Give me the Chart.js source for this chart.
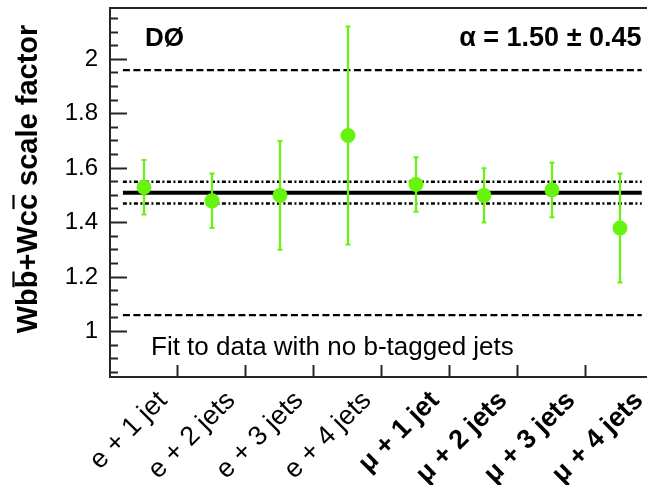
<!DOCTYPE html>
<html>
<head>
<meta charset="utf-8">
<script src="https://cdn.jsdelivr.net/npm/chart.js@4.4.1/dist/chart.umd.min.js"></script>
<style>
  html, body { margin: 0; padding: 0; background: #fff; overflow: hidden; }
  #wrap { width: 654px; height: 485px; }
</style>
</head>
<body>
<div id="wrap"><canvas id="sfChart" width="654" height="485"></canvas></div>
<script>
// channels and fitted W+heavy-flavour scale factors
const channels = ['e + 1 jet', 'e + 2 jets', 'e + 3 jets', 'e + 4 jets', 'μ + 1 jet', 'μ + 2 jets', 'μ + 3 jets', 'μ + 4 jets'];
const boldChannel = [false, false, false, false, true, true, true, true];
const scaleFactor = [1.53, 1.48, 1.50, 1.72, 1.54, 1.50, 1.52, 1.38];
const errUp = [0.10, 0.10, 0.20, 0.40, 0.10, 0.10, 0.10, 0.20];
const errDown = [0.10, 0.10, 0.20, 0.40, 0.10, 0.10, 0.10, 0.20];
// combined fit: central value, narrow band, wide band
const fitCentral = 1.51;
const fitBand = 0.04;
const fitSyst = 0.45;
const yTickLabels = ['1', '1.2', '1.4', '1.6', '1.8', '2'];

const FONT = '"Liberation Sans", Arial, Helvetica, sans-serif';
const GREEN = '#66f40e';
const FRAME = '#262626';

const points = scaleFactor.map((v, i) => ({ x: i, y: v }));
// error bars as one broken line: low, high, gap
const errorBars = [];
scaleFactor.forEach((v, i) => {
  errorBars.push({ x: i, y: v - errDown[i] });
  errorBars.push({ x: i, y: v + errUp[i] });
  errorBars.push({ x: i, y: null });
});

function hline(y, width, dash) {
  return {
    type: 'line',
    data: [{ x: -0.31, y: y }, { x: 7.32, y: y }],
    borderColor: '#000',
    borderWidth: width,
    borderDash: dash,
    pointRadius: 0,
    fill: false
  };
}

const textPlugin = {
  id: 'plotText',
  afterDraw(chart) {
    const { ctx, chartArea: a } = chart;
    ctx.save();
    ctx.fillStyle = '#000';
    ctx.textBaseline = 'alphabetic';
    ctx.font = 'bold 26px ' + FONT;
    ctx.textAlign = 'left';
    ctx.fillText('DØ', a.left + 35, a.top + 38);
    ctx.font = 'bold 27px ' + FONT;
    ctx.textAlign = 'right';
    ctx.fillText('α = 1.50 ± 0.45', a.right - 5, a.top + 38);
    ctx.font = '26px ' + FONT;
    ctx.textAlign = 'left';
    ctx.fillText('Fit to data with no b-tagged jets', a.left + 41, a.top + 347);

    // y axis title, with bars over the second b and c
    const title = 'Wbb+Wcc scale factor';
    ctx.translate(37, 179);
    ctx.rotate(-Math.PI / 2);
    ctx.font = 'bold 29px ' + FONT;
    ctx.textAlign = 'left';
    const x0 = -ctx.measureText(title).width / 2;
    ctx.fillText(title, x0, 0);
    ctx.strokeStyle = '#000';
    ctx.lineWidth = 2.2;
    [['Wb', 'b'], ['Wbb+Wc', 'c']].forEach(([pre, ch]) => {
      const s = x0 + ctx.measureText(pre).width + 1;
      const w = ctx.measureText(ch).width - 2;
      ctx.beginPath();
      ctx.moveTo(s, -23.5);
      ctx.lineTo(s + w, -23.5);
      ctx.stroke();
    });
    ctx.restore();
  }
};

new Chart(document.getElementById('sfChart'), {
  type: 'scatter',
  data: {
    datasets: [
      {
        data: points,
        backgroundColor: GREEN,
        borderColor: GREEN,
        pointRadius: 7.5,
        pointHoverRadius: 7.5,
        borderWidth: 0
      },
      {
        type: 'line',
        data: errorBars,
        borderColor: GREEN,
        borderWidth: 2.2,
        spanGaps: false,
        pointStyle: 'line',
        pointRadius: 2.5,
        pointBorderWidth: 2,
        pointBorderColor: GREEN,
        fill: false
      },
      hline(fitCentral, 4, []),
      hline(fitCentral + fitBand, 2.5, [4, 2.5, 2, 2.5]),
      hline(fitCentral - fitBand, 2.5, [4, 2.5, 2, 2.5]),
      hline(fitCentral + fitSyst, 2.2, [7, 3.5]),
      hline(fitCentral - fitSyst, 2.2, [7, 3.5])
    ]
  },
  options: {
    responsive: false,
    animation: false,
    layout: { padding: { left: 0, top: 5, right: 1, bottom: 0 } },
    plugins: { legend: { display: false }, tooltip: { enabled: false } },
    scales: {
      x: {
        type: 'linear',
        min: -0.5,
        max: 7.39,
        afterBuildTicks: s => { s.ticks = channels.map((c, i) => ({ value: i - 0.5 })); },
        afterFit: s => { s.height = 108; s.paddingLeft = 0; s.paddingRight = 0; },
        ticks: {
          autoSkip: false,
          minRotation: 45,
          maxRotation: 45,
          labelOffset: 53,
          padding: 20,
          color: '#000',
          callback: (v, i) => channels[i],
          font: ctx => ({ family: FONT, size: 27, weight: boldChannel[ctx.index] ? 'bold' : 'normal' })
        },
        grid: {
          drawOnChartArea: false,
          tickLength: -12,
          tickWidth: 2,
          tickColor: ctx => ctx.index === 0 ? 'rgba(0,0,0,0)' : FRAME
        },
        border: { display: true, width: 2, color: FRAME }
      },
      xTop: {
        type: 'linear',
        position: 'top',
        min: -0.5,
        max: 7.39,
        afterFit: s => { s.height = 0; },
        grid: { display: false, drawTicks: false },
        ticks: { display: false },
        border: { display: true, width: 2, color: FRAME }
      },
      y: {
        min: 0.833,
        max: 2.19,
        afterFit: s => { s.width = 110; s.paddingTop = 0; s.paddingBottom = 0; },
        ticks: {
          stepSize: 0.05,
          includeBounds: false,
          autoSkip: false,
          padding: 29,
          color: '#000',
          font: { family: FONT, size: 24 },
          callback: v => {
            const t = String(parseFloat(v.toFixed(2)));
            return yTickLabels.includes(t) ? t : '';
          }
        },
        grid: {
          drawOnChartArea: false,
          tickLength: -17,
          tickWidth: 2,
          tickColor: FRAME,
          tickBorderDash: ctx => {
            const t = String(parseFloat(ctx.tick.value.toFixed(2)));
            return yTickLabels.includes(t) ? [] : [0, 9, 8, 100];
          }
        },
        border: { display: true, width: 2, color: FRAME }
      }
    }
  },
  plugins: [textPlugin]
});
</script>
</body>
</html>
